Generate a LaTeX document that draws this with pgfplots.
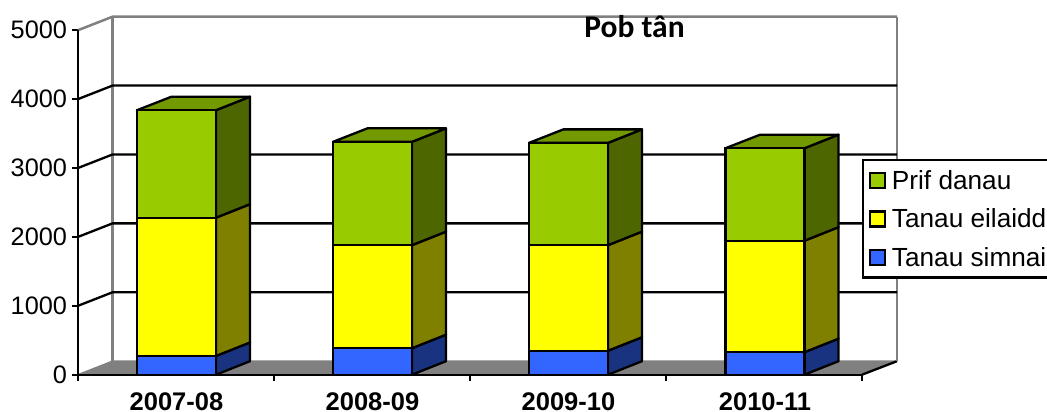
\documentclass[border=0pt]{standalone}
\usepackage{pgfplots}
\usepackage{pgfplotstable}
\usepackage{fontspec}
\pgfplotsset{compat=1.18}
\setmainfont{Liberation Sans}
\newfontfamily\titlefont{Carlito}
\definecolor{gfront}{HTML}{99CC00}
\definecolor{gside}{HTML}{4D6600}
\definecolor{gtop}{HTML}{739900}
\definecolor{yfront}{HTML}{FFFF00}
\definecolor{yside}{HTML}{808000}
\definecolor{bfront}{HTML}{3366FF}
\definecolor{bside}{HTML}{1A3380}
\definecolor{wall}{HTML}{808080}
\pgfplotstableread{
x      simnai eilaidd prif
176.5  272    2007    1560
372.5  385    1495    1500
568.5  348    1532    1485
765    327    1618    1342
}\stacks
\pgfplotsset{
  base/.style={
    at={(78pt,37.3pt)}, anchor=south west, scale only axis,
    width=819pt, height=358.2pt,
    xmin=78, xmax=897, ymin=0, ymax=5199, clip=false,
  },
  face/.style={draw=black, line width=2.3pt, line join=round, fill=#1},
}
\begin{document}
\begin{tikzpicture}
\begin{axis}[base,
  axis line style={draw=none},
  tick align=outside, xtick pos=bottom, ytick pos=left,
  ytick={0,1000,2000,3000,4000,5000},
  xtick={176.5,372.5,568.5,765},
  xticklabels={2007-08,2008-09,2009-10,2010-11},
  minor xtick={78,274,470,666,862},
  major tick length=6pt, minor tick length=6pt,
  major x tick style={draw=none},
  minor x tick style={black,line width=2.3pt},
  major y tick style={black,line width=2.3pt},
  /pgf/number format/.cd,1000 sep={},assume math mode=true,
  /pgfplots/.cd,
  y tick label style={font=\fontsize{25.3}{30}\selectfont, xshift=-1.5pt},
  x tick label style={font=\fontsize{25.5}{30}\selectfont\bfseries, yshift=-8.5pt},
]
% floor
\addplot[fill=wall, draw=none] coordinates {(78,0)(112.5,196)(897,196)(862,0)} --cycle;
\addplot[wall, line width=1.5pt] coordinates {(78,0)(112.5,196)(897,196)};
\addplot[black, line width=2.3pt] coordinates {(897,196)(862,0)};
% walls
\addplot[wall, line width=2.5pt] coordinates {(112.5,196)(112.5,5196)};
\addplot[wall, line width=2.5pt] coordinates {(897,196)(897,5196)};
\addplot[wall, line width=2.5pt] coordinates {(78,5000)(112.5,5196)(897,5196)};
% grid
\addplot[black, line width=2.3pt] coordinates {(78,4000)(112.5,4196)(897,4196)};
\addplot[black, line width=2.3pt] coordinates {(78,3000)(112.5,3196)(897,3196)};
\addplot[black, line width=2.3pt] coordinates {(78,2000)(112.5,2196)(897,2196)};
\addplot[black, line width=2.3pt] coordinates {(78,1000)(112.5,1196)(897,1196)};
% axes
\addplot[black, line width=2.3pt] coordinates {(78,5000)(78,0)(862,0)};
% bar 1
\addplot[face=bside] coordinates {(216,0)(250,196)(250,468)(216,272)} --cycle;
\addplot[face=yside] coordinates {(216,272)(250,468)(250,2475)(216,2279)} --cycle;
\addplot[face=gside] coordinates {(216,2279)(250,2475)(250,4035)(216,3839)} --cycle;
\addplot[face=gtop] coordinates {(137,3839)(171.5,4035)(250,4035)(216,3839)} --cycle;
% bar 2
\addplot[face=bside] coordinates {(412,0)(446,196)(446,581)(412,385)} --cycle;
\addplot[face=yside] coordinates {(412,385)(446,581)(446,2076)(412,1880)} --cycle;
\addplot[face=gside] coordinates {(412,1880)(446,2076)(446,3576)(412,3380)} --cycle;
\addplot[face=gtop] coordinates {(333,3380)(367.5,3576)(446,3576)(412,3380)} --cycle;
% bar 3
\addplot[face=bside] coordinates {(608,0)(642,196)(642,544)(608,348)} --cycle;
\addplot[face=yside] coordinates {(608,348)(642,544)(642,2076)(608,1880)} --cycle;
\addplot[face=gside] coordinates {(608,1880)(642,2076)(642,3561)(608,3365)} --cycle;
\addplot[face=gtop] coordinates {(529,3365)(563.5,3561)(642,3561)(608,3365)} --cycle;
% bar 4
\addplot[face=bside] coordinates {(804.5,0)(838.5,196)(838.5,523)(804.5,327)} --cycle;
\addplot[face=yside] coordinates {(804.5,327)(838.5,523)(838.5,2141)(804.5,1945)} --cycle;
\addplot[face=gside] coordinates {(804.5,1945)(838.5,2141)(838.5,3483)(804.5,3287)} --cycle;
\addplot[face=gtop] coordinates {(725.5,3287)(760,3483)(838.5,3483)(804.5,3287)} --cycle;
\end{axis}
\begin{axis}[base, hide axis,
  ybar stacked, bar width=79pt,
  reverse legend,
  legend cell align=left,
  legend image code/.code={\draw[#1, draw=black, line width=2.3pt] (0pt,-7.5pt) rectangle (15pt,7.5pt);},
  legend style={at={(axis cs:862,3131)}, anchor=north west, draw=black, fill=white,
    line width=2.3pt, font=\fontsize{26.2}{30}\selectfont, inner xsep=6pt, inner ysep=9pt,
    row sep=16pt, nodes={inner xsep=5.5pt, inner ysep=1pt}},
]
\addplot[fill=bfront, draw=black, line width=2.3pt] table[x=x,y=simnai] {\stacks};
\addlegendentry{Tanau simnai\hspace{30pt}}
\addplot[fill=yfront, draw=black, line width=2.3pt] table[x=x,y=eilaidd] {\stacks};
\addlegendentry{Tanau eilaidd\hspace{30pt}}
\addplot[fill=gfront, draw=black, line width=2.3pt] table[x=x,y=prif] {\stacks};
\addlegendentry{Prif danau\hspace{30pt}}
\node[font=\titlefont\fontsize{31.5}{36}\selectfont\bfseries, anchor=center] at (axis cs:634.5,5046) {Pob tân};
\end{axis}
\pgfresetboundingbox
\useasboundingbox (0,0) rectangle (1047pt,412pt);
\end{tikzpicture}
\end{document}
